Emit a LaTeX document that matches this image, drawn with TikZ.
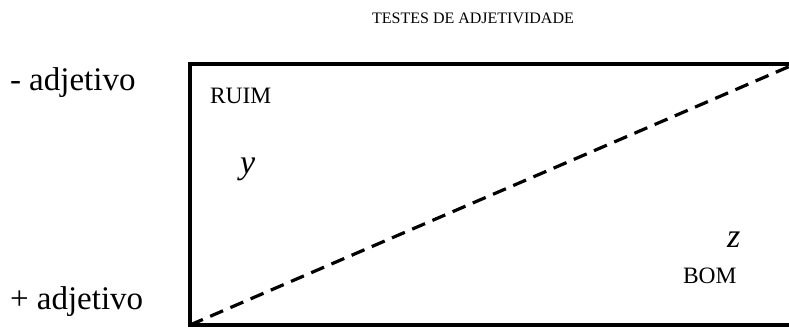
\documentclass[tikz,border=0pt]{standalone}
\usepackage{fontspec}
\setmainfont{Liberation Serif}
\usetikzlibrary{positioning}

\begin{document}
\begin{tikzpicture}[
    x=1pt, y=-1pt,
    every node/.style={inner sep=0pt, outer sep=0pt},
    frame/.style={draw, line width=3.2pt, anchor=north west, minimum width=605pt, minimum height=261pt},
    title/.style={font=\fontsize{16}{19}\selectfont},
    side/.style={font=\fontsize{33}{38}\selectfont, anchor=base west},
    corner/.style={font=\fontsize{23.5}{27}\selectfont, anchor=base west},
    var/.style={font=\fontsize{34}{40}\selectfont\itshape, anchor=base west},
    diag/.style={line width=3.2pt, dash pattern=on 14pt off 8pt}
]
\useasboundingbox (0,0) rectangle (789,329);
\clip (0,0) rectangle (789,329);

% ============ TITLE ============
\node[title] (title) at (473, 18) {TESTES DE ADJETIVIDADE};

% ============ SIDE LABELS ============
\node[side] (minus) at (10, 90) {- adjetivo};
\node[side] (plus) at (10, 309) {+ adjetivo};

% ============ FRAME ============
\node[frame] (box) at (190, 64) {};

% diagonal
\draw[diag] (box.south west) -- (box.north east);

% ============ INSIDE ============
\node[corner] (ruim) at (210, 103) {RUIM};
\node[var] (y) at (240, 173) {y};
\node[var] (z) at (727, 247) {z};
\node[corner] (bom) at (683, 283) {BOM};

\end{tikzpicture}
\end{document}
